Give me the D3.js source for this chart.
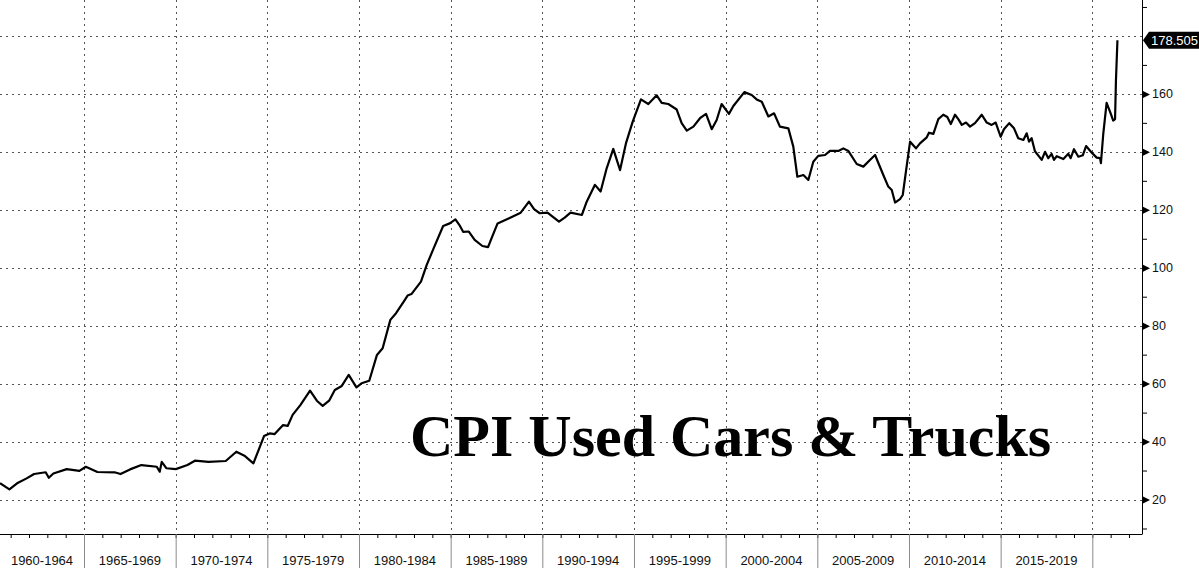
<!DOCTYPE html>
<html><head><meta charset="utf-8">
<script src="https://cdn.jsdelivr.net/npm/d3@7"></script>
<style>
html,body{margin:0;padding:0;background:#fff;}
svg{display:block;}
</style></head>
<body>
<div id="chart"></div>
<script>
// ---- data (decimal year, CPI used cars & trucks index) ----
const years = [1960.42,1960.93,1961.35,1961.87,1962.28,1962.91,1963.08,1963.33,1964.06,1964.75,
1965.10,1965.73,1966.67,1966.99,1967.51,1968.13,1968.97,1969.13,1969.24,1969.49,
1970.01,1970.64,1971.05,1971.79,1972.73,1973.31,1973.78,1974.24,1974.82,1975.13,
1975.40,1975.86,1976.11,1976.38,1976.80,1977.33,1977.70,1978.02,1978.37,1978.68,
1979.06,1979.44,1979.86,1980.14,1980.56,1980.98,1981.29,1981.71,1982.02,1982.44,
1982.65,1982.86,1983.38,1983.69,1984.11,1984.59,1984.95,1985.26,1985.47,1985.68,
1985.99,1986.31,1986.73,1987.04,1987.25,1987.56,1988.19,1988.82,1989.27,1989.55,
1989.86,1990.28,1990.91,1991.22,1991.54,1992.16,1992.42,1992.87,1993.18,1993.51,
1993.87,1994.24,1994.56,1994.93,1995.38,1995.78,1996.24,1996.51,1996.87,1997.33,
1997.60,1997.88,1998.24,1998.60,1998.93,1999.24,1999.51,1999.78,2000.18,2000.42,
2001.02,2001.42,2001.69,2001.97,2002.33,2002.64,2002.96,2003.42,2003.69,2003.91,
2004.24,2004.51,2004.78,2005.05,2005.42,2005.69,2006.15,2006.42,2006.69,2007.15,
2007.51,2007.87,2008.15,2008.60,2008.87,2009.06,2009.24,2009.51,2009.66,2009.87,
2010.06,2010.38,2010.60,2010.97,2011.09,2011.33,2011.60,2011.87,2012.09,2012.28,
2012.51,2012.69,2012.88,2013.11,2013.33,2013.60,2013.97,2014.24,2014.51,2014.73,
2015.00,2015.18,2015.47,2015.73,2015.96,2016.24,2016.42,2016.55,2016.69,2016.87,
2017.24,2017.42,2017.60,2017.78,2017.91,2018.06,2018.42,2018.69,2018.82,2019.00,
2019.24,2019.48,2019.66,2019.97,2020.24,2020.42,2020.47,2020.60,2020.78,2021.00,
2021.14,2021.24,2021.29,2021.37];
const values = [25.6,23.5,25.6,27.3,28.8,29.4,27.5,29.0,30.5,29.9,
31.3,29.5,29.4,28.8,30.4,31.9,31.3,29.6,33.0,30.8,
30.5,31.9,33.4,33.0,33.3,36.5,35.0,32.5,41.9,42.8,
42.6,45.7,45.4,49.2,52.6,57.6,54.1,52.3,54.1,57.8,
59.2,63.0,58.7,60.1,61.0,69.9,72.2,82.0,84.3,88.3,
90.4,90.9,95.2,100.9,107.3,114.4,115.3,116.7,114.8,112.4,
112.5,109.6,107.5,107.1,110.5,115.3,117.1,119.0,122.8,120.2,
118.8,119.0,115.9,117.3,119.0,118.2,122.8,128.6,126.3,134.3,
141.0,133.7,142.9,150.4,158.1,156.5,159.5,156.9,156.5,154.6,
149.9,147.3,148.7,151.6,153.1,147.8,151.0,156.5,153.1,155.8,
160.6,159.6,158.1,157.3,152.2,153.3,148.7,148.1,141.8,131.4,
132.0,130.3,136.6,138.6,138.9,140.3,140.3,141.2,140.3,135.8,
134.9,137.2,138.9,132.0,128.0,126.8,122.5,123.7,125.1,134.9,
143.5,141.2,142.9,145.0,146.6,146.2,151.3,152.8,152.0,149.6,
152.8,151.3,149.3,150.1,148.7,149.9,152.8,150.1,149.3,150.1,
145.2,147.8,149.9,148.1,144.7,144.1,146.4,143.5,144.7,140.2,
137.2,140.0,137.8,139.3,137.2,138.5,137.5,139.3,137.8,140.9,
138.3,138.8,142.0,139.7,138.0,137.8,136.1,146.4,156.9,153.3,
150.8,151.3,164.8,178.505];

const yTicks = [20,40,60,80,100,120,140,160];
const yGrid = [20,40,60,80,100,120,140,160,180];
const yMinor = [10,30,50,70,90,110,130,150,170,190];
const periodStarts = [1965,1970,1975,1980,1985,1990,1995,2000,2005,2010,2015,2020];
const periodLabels = ["1960-1964","1965-1969","1970-1974","1975-1979","1980-1984","1985-1989",
  "1990-1994","1995-1999","2000-2004","2005-2009","2010-2014","2015-2019"];
const yearTicks = d3.range(1961, 2023);
const title = "CPI Used Cars & Trucks";
const lastLabel = "178.505";

// ---- layout ----
const W = 1199, H = 568;
const plotRight = 1142, plotBottom = 534;

const x = d3.scaleLinear().domain([1960.418, 2022.71]).range([0, plotRight]);
const y = d3.scaleLinear().domain([8.1, 192.4]).range([plotBottom, 0]);

const svg = d3.select("#chart").append("svg").attr("width", W).attr("height", H);

svg.append("defs").append("clipPath").attr("id","clip")
  .append("rect").attr("x",0).attr("y",0).attr("width",plotRight).attr("height",plotBottom);

// gridlines
const grid = svg.append("g").attr("stroke","#555").attr("stroke-width",1)
  .attr("stroke-dasharray","2,4").attr("shape-rendering","crispEdges");
grid.selectAll(".hg").data(yGrid).enter().append("line")
  .attr("x1",0).attr("x2",plotRight)
  .attr("y1",d=>Math.round(y(d))+0.5).attr("y2",d=>Math.round(y(d))+0.5);
grid.selectAll(".vg").data(periodStarts).enter().append("line")
  .attr("x1",d=>Math.round(x(d))+0.5).attr("x2",d=>Math.round(x(d))+0.5)
  .attr("y1",0).attr("y2",plotBottom);

// line
const line = d3.line().x((d,i)=>x(years[i])).y(d=>y(d));
svg.append("path").datum(values).attr("clip-path","url(#clip)")
  .attr("fill","none").attr("stroke","#000").attr("stroke-width",2.2)
  .attr("stroke-linejoin","round").attr("d",line);

// bottom axis: yearly minor ticks
const xAxisMinor = d3.axisBottom(x).tickValues(yearTicks).tickSize(4).tickFormat("");
const gx = svg.append("g").attr("transform",`translate(0,${plotBottom})`).call(xAxisMinor);
gx.select(".domain").attr("stroke","#000").attr("d",`M0,0.5H${plotRight}`);
gx.selectAll(".tick line").attr("stroke","#000");

// period separators
const xAxisSep = d3.axisBottom(x).tickValues(periodStarts).tickSize(H-plotBottom).tickFormat("");
const gs = svg.append("g").attr("transform",`translate(0,${plotBottom})`).call(xAxisSep);
gs.select(".domain").remove();
gs.selectAll(".tick line").attr("stroke","#8a8a8a");

// period labels
const bounds = [0, ...periodStarts.map(d=>x(d))];
svg.append("g").selectAll("text").data(periodLabels).enter().append("text")
  .attr("x",(d,i)=>(bounds[i]+bounds[i+1])/2).attr("y",565)
  .attr("text-anchor","middle").attr("font-family","Liberation Sans, Arial, sans-serif")
  .attr("font-size",13).attr("fill","#111").text(d=>d);

// right axis
const gy = svg.append("g").attr("transform",`translate(${plotRight},0)`)
  .call(d3.axisRight(y).tickValues(yMinor).tickSize(5).tickFormat(""));
gy.select(".domain").attr("d",`M0.5,0V${plotBottom+0.5}`).attr("stroke","#000");
gy.selectAll(".tick line").attr("stroke","#000");

const gyl = svg.append("g").attr("transform",`translate(${plotRight},0)`)
  .call(d3.axisRight(y).tickValues(yTicks).tickSize(0).tickPadding(10));
gyl.select(".domain").remove();
gyl.selectAll(".tick text").attr("font-family","Liberation Sans, Arial, sans-serif")
  .attr("font-size",12.5).attr("fill","#111");
gyl.selectAll(".tick").append("path").attr("d","M1,-3.5L8,0L1,3.5Z").attr("fill","#000");

// last value tag
const lv = values[values.length-1];
const ly = y(lv);
svg.append("path")
  .attr("d",`M${plotRight+1},${ly} L${plotRight+7},${ly-8.5} H${W} V${ly+8.5} H${plotRight+7} Z`)
  .attr("fill","#000");
svg.append("text").attr("x",plotRight+9).attr("y",ly+4.5)
  .attr("font-family","Liberation Sans, Arial, sans-serif").attr("font-size",13)
  .attr("fill","#fff").text(lastLabel);

// title
svg.append("text").attr("x",410).attr("y",456)
  .attr("font-family","Liberation Serif, Times New Roman, serif").attr("font-weight","bold")
  .attr("font-size",60).attr("fill","#000").text(title);
</script>
</body></html>
